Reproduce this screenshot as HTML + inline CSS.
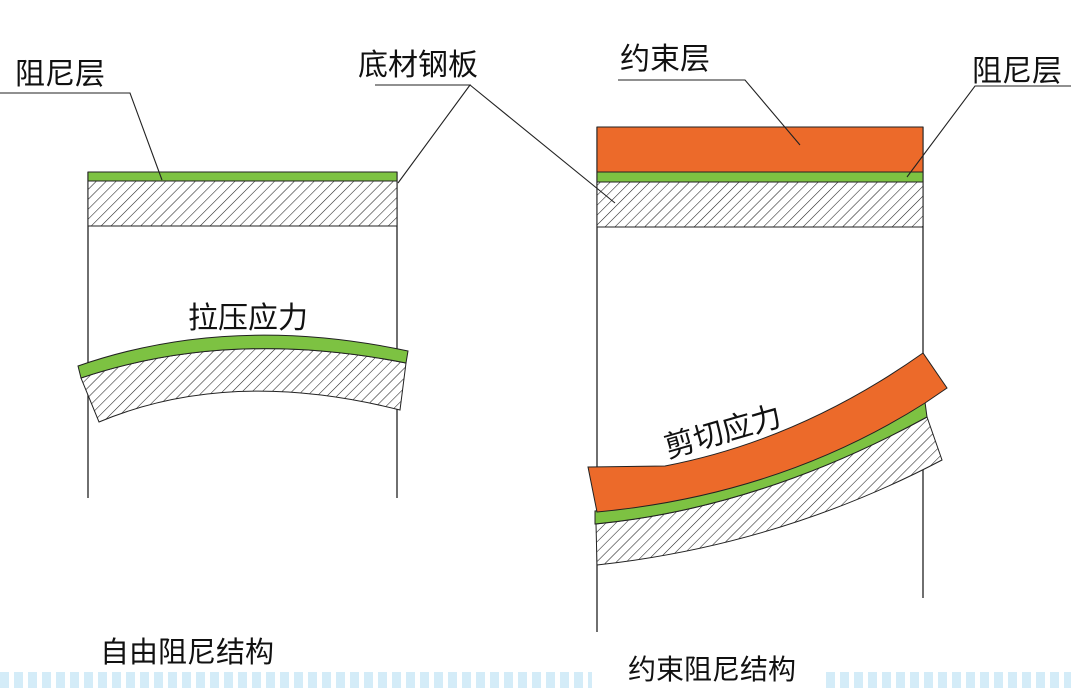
<!DOCTYPE html>
<html><head><meta charset="utf-8"><style>
html,body{margin:0;padding:0;background:#fff}
svg{display:block}
text{font-family:"Liberation Sans","WenQuanYi Zen Hei","Noto Sans CJK SC",sans-serif;fill:#111}
</style></head><body>
<svg width="1071" height="688" viewBox="0 0 1071 688" xmlns="http://www.w3.org/2000/svg">
<defs>
<pattern id="h" patternUnits="userSpaceOnUse" width="7" height="7" patternTransform="rotate(45)">
<rect width="7" height="7" fill="#fff"/><line x1="0" y1="0" x2="0" y2="7" stroke="#222" stroke-width="1.1"/>
</pattern>
<pattern id="st" patternUnits="userSpaceOnUse" width="14" height="16">
<rect width="9" height="16" fill="#d4ecf8"/>
</pattern>
</defs>
<rect width="1071" height="688" fill="#fff"/>
<rect x="0" y="672" width="592" height="16" fill="url(#st)"/>
<rect x="826" y="672" width="245" height="16" fill="url(#st)"/>

<!-- left -->
<line x1="88" y1="172" x2="88" y2="498" stroke="#222" stroke-width="1.3"/>
<line x1="397" y1="172" x2="397" y2="498" stroke="#222" stroke-width="1.3"/>
<rect x="88" y="172" width="309" height="9" fill="#7dc242" stroke="#222" stroke-width="1"/>
<rect x="88" y="181" width="309" height="45" fill="url(#h)" stroke="#222" stroke-width="1"/>
<path d="M81,378 Q230,328 406,363 L400,410 Q230,367 99,422 Z" fill="url(#h)" stroke="#222" stroke-width="1"/>
<path d="M78,366 Q230,313 408,351 L406,363 Q230,328 81,378 Z" fill="#7dc242" stroke="#222" stroke-width="1"/>

<!-- right -->
<line x1="597" y1="127" x2="597" y2="632" stroke="#222" stroke-width="1.3"/>
<line x1="923" y1="127" x2="923" y2="598" stroke="#222" stroke-width="1.3"/>
<rect x="597" y="127" width="326" height="45" fill="#ec6a2a" stroke="#222" stroke-width="1"/>
<rect x="597" y="172" width="326" height="10" fill="#7dc242" stroke="#222" stroke-width="1"/>
<rect x="597" y="182" width="326" height="45" fill="url(#h)" stroke="#222" stroke-width="1"/>
<path d="M597,565 Q780,545 942,460 L927,417 Q760,508 596,524 Z" fill="url(#h)" stroke="#222" stroke-width="1"/>
<path d="M595,524 Q760,508 927,417 L925,402 Q760,492 595,511 Z" fill="#7dc242" stroke="#222" stroke-width="1"/>
<path d="M588,467 L665,466 Q800,440 923,353 L947,388 L925,403 Q780,495 597,512 Z" fill="#ec6a2a" stroke="#222" stroke-width="1"/>

<!-- leaders -->
<g stroke="#222" stroke-width="1.1" fill="none">
<polyline points="0,93 130,93 162,180"/>
<polyline points="398,183 470,85 375,85"/>
<line x1="470" y1="85" x2="615" y2="203"/>
<polyline points="618,80 745,80 800,145"/>
<polyline points="1071,86 975,86 907,177"/>
</g>

<!-- labels -->
<text x="15" y="84" font-size="30">阻尼层</text>
<text x="358" y="75" font-size="30">底材钢板</text>
<text x="620" y="69" font-size="30">约束层</text>
<text x="972" y="81" font-size="30">阻尼层</text>
<text x="188" y="328" font-size="30">拉压应力</text>
<text x="0" y="0" font-size="30" transform="translate(668,458) rotate(-16)">剪切应力</text>
<text x="100" y="662" font-size="29">自由阻尼结构</text>
<text x="628" y="679" font-size="28">约束阻尼结构</text>
</svg>
</body></html>
